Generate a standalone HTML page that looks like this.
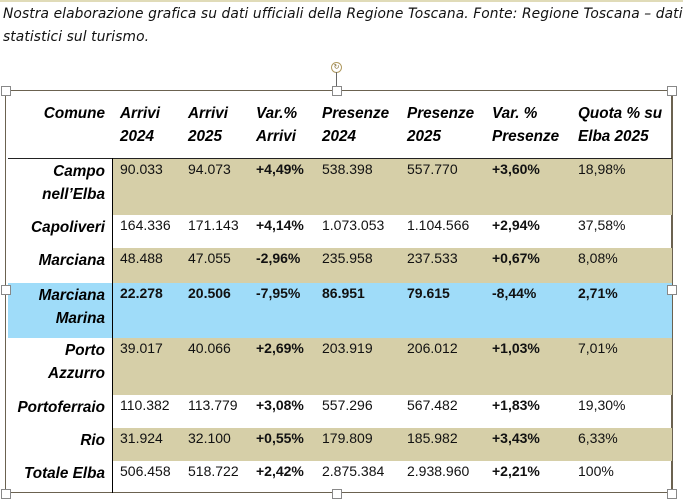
<!DOCTYPE html>
<html><head><style>
body{margin:0;width:683px;height:499px;background:#fff;position:relative;overflow:hidden;font-family:"Liberation Sans",Arial,sans-serif;}
.a{position:absolute;}
.cap{font-family:"DejaVu Sans","Liberation Sans",sans-serif;font-style:italic;font-size:13.8px;color:#111;left:3px;letter-spacing:0.1px}
.h{font-weight:bold;font-style:italic;font-size:15.3px;line-height:23px;color:#000}
.c{font-weight:bold;font-style:italic;font-size:15.3px;line-height:23px;text-align:right;right:578px;color:#000}
.v{font-size:14px;color:#111}
.b{font-weight:bold}
.hd{width:8px;height:8px;border:1px solid #888;background:#fff;position:absolute}
</style></head><body>
<div class="a" style="left:0;top:0;width:683px;height:2px;background:#e0dbb8"></div>
<div class="a cap" style="top:6px">Nostra elaborazione grafica su dati ufficiali della Regione Toscana. Fonte: Regione Toscana – dati</div>
<div class="a cap" style="top:29px">statistici sul turismo.</div>
<div class="a" style="left:331px;top:62px;width:9px;height:9px;border:1px solid #b09a60;border-radius:50%;font-size:7px;line-height:9px;text-align:center;color:#806a30">↻</div>
<div class="a" style="left:336px;top:72px;width:1px;height:18px;background:#666"></div>
<div class="a" style="left:5px;top:90px;width:668px;height:403px;border:1px solid #6b6250;border-right-width:2px;box-sizing:border-box"></div>
<div class="a" style="left:113px;top:159px;width:559px;height:56px;background:#d6cfa8"></div>
<div class="a" style="left:113px;top:248px;width:559px;height:35px;background:#d6cfa8"></div>
<div class="a" style="left:8px;top:283px;width:664px;height:55px;background:#9fdcf9"></div>
<div class="a" style="left:113px;top:338px;width:559px;height:57px;background:#d6cfa8"></div>
<div class="a" style="left:113px;top:428px;width:559px;height:33px;background:#d6cfa8"></div>
<div class="a" style="left:8px;top:158px;width:664px;height:1px;background:#222"></div>
<div class="a" style="left:112px;top:158px;width:1px;height:335px;background:#000"></div>
<div class="hd" style="left:1px;top:86px"></div><div class="hd" style="left:332px;top:86px"></div><div class="hd" style="left:667px;top:86px"></div>
<div class="hd" style="left:1px;top:285px"></div><div class="hd" style="left:667px;top:285px"></div>
<div class="hd" style="left:1px;top:489px"></div><div class="hd" style="left:332px;top:489px"></div><div class="hd" style="left:667px;top:489px"></div>
<div class="a h" style="right:578px;top:102px">Comune</div>
<div class="a h" style="left:120px;top:102px">Arrivi<br>2024</div>
<div class="a h" style="left:188px;top:102px">Arrivi<br>2025</div>
<div class="a h" style="left:256px;top:102px">Var.%<br>Arrivi</div>
<div class="a h" style="left:322px;top:102px">Presenze<br>2024</div>
<div class="a h" style="left:407px;top:102px">Presenze<br>2025</div>
<div class="a h" style="left:492px;top:102px">Var. %<br>Presenze</div>
<div class="a h" style="left:578px;top:102px">Quota % su<br>Elba 2025</div>
<div class="a c" style="top:160px">Campo<br>nell’Elba</div>
<div class="a c" style="top:216px">Capoliveri</div>
<div class="a c" style="top:249px">Marciana</div>
<div class="a c" style="top:284px">Marciana<br>Marina</div>
<div class="a c" style="top:339px">Porto<br>Azzurro</div>
<div class="a c" style="top:396px">Portoferraio</div>
<div class="a c" style="top:429px">Rio</div>
<div class="a c" style="top:462px">Totale Elba</div>
<div id="vals"></div>
<script>
var rows=[[161,["90.033","94.073","+4,49%","538.398","557.770","+3,60%","18,98%"],0],
[217,["164.336","171.143","+4,14%","1.073.053","1.104.566","+2,94%","37,58%"],0],
[250,["48.488","47.055","-2,96%","235.958","237.533","+0,67%","8,08%"],0],
[285,["22.278","20.506","-7,95%","86.951","79.615","-8,44%","2,71%"],1],
[340,["39.017","40.066","+2,69%","203.919","206.012","+1,03%","7,01%"],0],
[397,["110.382","113.779","+3,08%","557.296","567.482","+1,83%","19,30%"],0],
[430,["31.924","32.100","+0,55%","179.809","185.982","+3,43%","6,33%"],0],
[463,["506.458","518.722","+2,42%","2.875.384","2.938.960","+2,21%","100%"],0]];
var xs=[120,188,256,322,407,492,578],h="";
rows.forEach(function(r){r[1].forEach(function(t,i){var b=(r[2]||i==2||i==5)?" b":"";h+='<div class="a v'+b+'" style="left:'+xs[i]+'px;top:'+r[0]+'px">'+t+'</div>';});});
document.getElementById("vals").innerHTML=h;
</script>
</body></html>
